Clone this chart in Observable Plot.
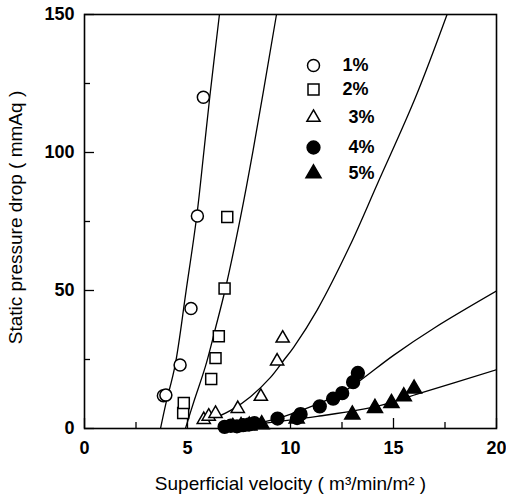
<!DOCTYPE html>
<html>
<head>
<meta charset="utf-8">
<script src="https://cdn.jsdelivr.net/npm/d3@7"></script>
<script src="https://cdn.jsdelivr.net/npm/@observablehq/plot@0.6"></script>
<style>
  html, body { margin: 0; padding: 0; background: white; }
</style>
</head>
<body>
<div id="chart"></div>
<script>
// ---- data ----
const seriesNames = ["1%", "2%", "3%", "4%", "5%"];
const seriesSymbols = ["circle", "square", "triangle", "circle", "triangle"];
const seriesFilled = [false, false, false, true, true];

const pts1 = [[3.83, 11.9], [3.95, 12.1], [4.64, 23.0], [5.17, 43.5], [5.48, 77.0], [5.77, 120.0]];
const pts2 = [[4.79, 5.6], [4.82, 9.2], [6.15, 17.9], [6.36, 25.5], [6.52, 33.4], [6.80, 50.7], [6.93, 76.6]];
const pts3 = [[5.79, 3.2], [6.03, 4.4], [6.36, 5.4], [7.44, 7.2], [8.56, 11.6], [9.35, 24.4], [9.62, 32.7]];
const pts4 = [[6.8, 0.6], [7.1, 1.0], [7.4, 0.8], [7.7, 1.2], [8.0, 1.5], [8.25, 1.9], [9.37, 3.6], [10.32, 3.8], [10.49, 5.2], [11.42, 8.0], [12.07, 10.8], [12.51, 12.8], [13.04, 16.8], [13.27, 20.1]];
const pts5 = [[7.2, 0.5], [7.6, 0.8], [8.0, 1.0], [8.6, 1.5], [10.3, 3.6], [13.0, 5.0], [14.1, 7.4], [14.9, 9.2], [15.5, 11.6], [16.0, 14.4]];

const fit1 = [[3.69, 0], [3.95, 9], [4.4, 23], [4.93, 49.8], [5.45, 77], [5.79, 100], [6.08, 120], [6.55, 150]];
const fit2 = [[4.90, 0], [5.31, 9.8], [5.87, 22.5], [6.36, 36.4], [6.85, 51], [7.57, 76.4], [8.18, 100.6], [9.32, 150]];
const fit3 = [[6.4, 4.0], [7.2, 7.0], [8.06, 11.5], [9.03, 18.5], [9.7, 25], [10.16, 29.5], [11.3, 43], [12.87, 66], [14.21, 88.5], [16.07, 120], [17.6, 150]];
const fit4 = [[7.0, 0], [8.4, 1.9], [9.7, 4.4], [11.3, 8.8], [12.5, 13], [13.4, 17.5], [15, 26.5], [17, 36.5], [20, 49.8]];
const fit5 = [[7.0, 0], [8.06, 1.3], [11.3, 4.4], [14.2, 8.0], [16.3, 12.8], [20, 21.3]];

const xTicks = [0, 5, 10, 15, 20];
const xMinor = [2.5, 7.5, 12.5, 17.5];
const yTicks = [0, 50, 100, 150];
const yMinor = [25, 75, 125];

const xLabel = "Superficial velocity ( m³/min/m² )";
const yLabel = "Static pressure drop ( mmAq )";

// ---- chart ----
const W = 506, H = 499;
const mL = 84, mR = 10, mT = 14, mB = 71;
const innerW = W - mL - mR, innerH = H - mT - mB;
const font = "'Liberation Sans', Arial, Helvetica, sans-serif";

const allPts = [pts1, pts2, pts3, pts4, pts5];
const allFits = [fit1, fit2, fit3, fit4, fit5];
const symR = [6, 6.2, 4.9, 6.4, 5.6];

const marks = [];

// fitted curves
allFits.forEach(f => {
  marks.push(Plot.line(f, {x: d => d[0], y: d => d[1], curve: "catmull-rom", stroke: "black", strokeWidth: 1.3, clip: true}));
});

// data points
allPts.forEach((p, i) => {
  marks.push(Plot.dot(p, {
    x: d => d[0], y: d => d[1],
    symbol: () => seriesSymbols[i],
    r: symR[i],
    fill: seriesFilled[i] ? "black" : "white",
    stroke: "black",
    strokeWidth: 1.5
  }));
});

// legend
const legDy = [51, 75, 103, 133, 159];
const legTextDx = [258, 258, 264, 264, 264];
seriesNames.forEach((name, i) => {
  marks.push(Plot.dot([name], {
    frameAnchor: "top-left", dx: 229, dy: legDy[i],
    symbol: () => seriesSymbols[i],
    r: symR[i],
    fill: seriesFilled[i] ? "black" : "white",
    stroke: "black", strokeWidth: 1.5
  }));
  marks.push(Plot.text([name], {
    frameAnchor: "top-left", dx: legTextDx[i], dy: legDy[i],
    text: d => d, textAnchor: "start", lineAnchor: "middle",
    fontSize: 18, fontWeight: "bold", fill: "black"
  }));
});

// inward ticks
marks.push(Plot.tickX(xTicks, {x: d => d, insetTop: innerH - 10, stroke: "black", strokeWidth: 1.3}));
marks.push(Plot.tickX(xMinor, {x: d => d, insetTop: innerH - 6, stroke: "black", strokeWidth: 1.3}));
marks.push(Plot.tickY(yTicks, {y: d => d, insetRight: innerW - 10, stroke: "black", strokeWidth: 1.3}));
marks.push(Plot.tickY(yMinor, {y: d => d, insetRight: innerW - 6, stroke: "black", strokeWidth: 1.3}));

// tick labels
marks.push(Plot.axisX(xTicks, {tickSize: 0, tickPadding: 13, fontSize: 18, fontWeight: "bold", label: null}));
marks.push(Plot.axisY(yTicks, {tickSize: 0, tickPadding: 10, fontSize: 18, fontWeight: "bold", label: null}));

// axis titles
marks.push(Plot.text([xLabel], {frameAnchor: "bottom", dy: 55, text: d => d, fontSize: 19, textAnchor: "middle", lineAnchor: "middle"}));
marks.push(Plot.text([yLabel], {frameAnchor: "left", dx: -69, dy: -4, rotate: -90, text: d => d, fontSize: 19, textAnchor: "middle", lineAnchor: "middle"}));

marks.push(Plot.frame({stroke: "black", strokeWidth: 1.6}));

const chart = Plot.plot({
  width: W, height: H,
  marginLeft: mL, marginRight: mR, marginTop: mT, marginBottom: mB,
  x: {domain: [0, 20], axis: null},
  y: {domain: [0, 150], axis: null},
  style: {fontFamily: font, background: "white", color: "black", overflow: "visible"},
  marks
});
document.getElementById("chart").appendChild(chart);
</script>
</body>
</html>
